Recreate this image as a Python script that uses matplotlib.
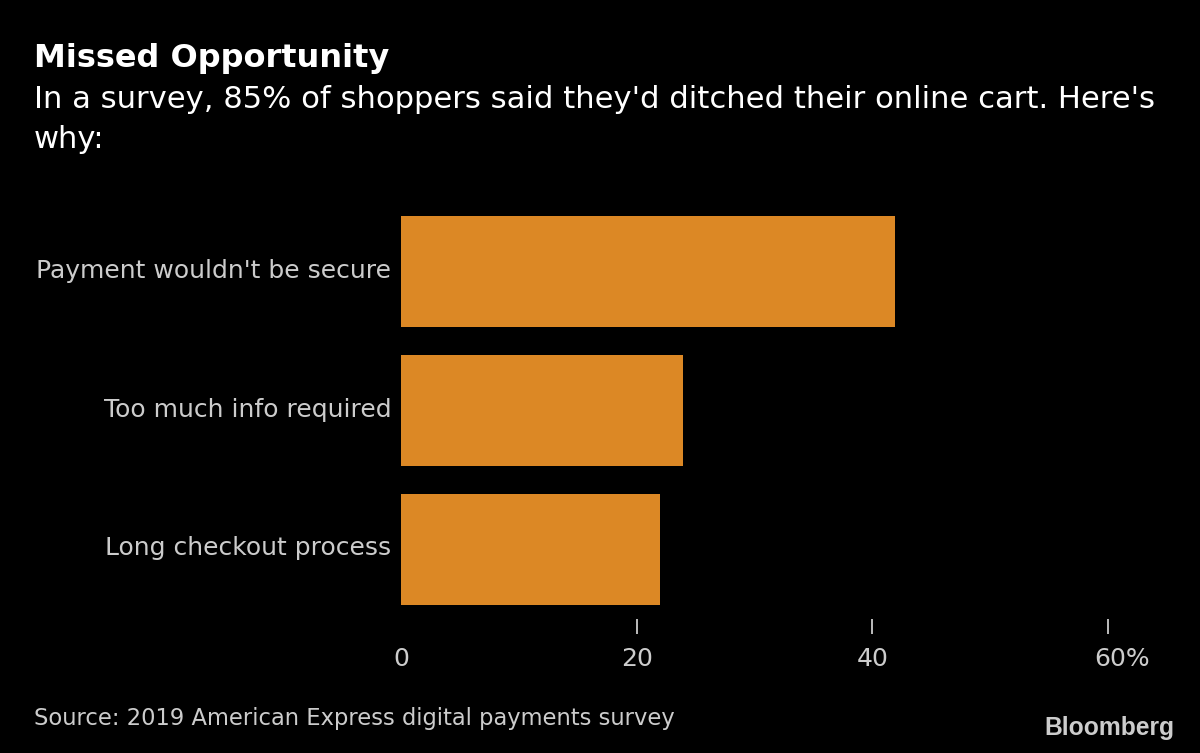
import matplotlib
matplotlib.use("Agg")
import matplotlib.pyplot as plt
from matplotlib.transforms import ScaledTranslation

categories = ["Payment wouldn't be secure", "Too much info required", "Long checkout process"]
values = [41.9, 23.9, 22]
tick_values = [0, 20, 40, 60]
tick_labels = ["0", "20", "40", "60%"]

W, H = 1200, 753
plt.rcParams["font.family"] = ["DejaVu Sans"]

fig = plt.figure(figsize=(W / 100, H / 100), dpi=100, facecolor="black")
# axes box in pixels: x 401..1108 is 0..60, y 202..619
ax = fig.add_axes([401 / W, 1 - 619 / H, (1108 - 401) / W, (619 - 202) / H], facecolor="black")

ax.barh(range(3), values, height=0.8, color="#dc8825")
ax.set_xlim(0, 60)
ax.set_ylim(2.5, -0.5)

for side in ax.spines:
    ax.spines[side].set_visible(False)

ax.set_yticks(range(3), categories)
ax.tick_params(axis="y", length=0, pad=7, labelsize=18, labelcolor="#cccccc")
ax.set_xticks(tick_values, tick_labels)
ax.tick_params(axis="x", direction="out", length=10.5, width=1.2, color="#dddddd", pad=10,
               labelsize=18, labelcolor="#cccccc")
ax.xaxis.get_major_ticks()[0].tick1line.set_visible(False)

# nudge labels to sit where the reference has them
for lab in ax.get_yticklabels():
    lab.set_transform(lab.get_transform() + ScaledTranslation(0, 3.5 / 100, fig.dpi_scale_trans))
last = ax.get_xticklabels()[-1]
last.set_transform(last.get_transform() + ScaledTranslation(14 / 100, 0, fig.dpi_scale_trans))

fig.text(34 / W, 1 - 58 / H, "Missed Opportunity", color="white", fontsize=23, fontweight="bold", va="center")
fig.text(34 / W, 1 - 99 / H, "In a survey, 85% of shoppers said they'd ditched their online cart. Here's",
         color="white", fontsize=22.1, va="center")
fig.text(34 / W, 1 - 139 / H, "why:", color="white", fontsize=22.1, va="center")
fig.text(34 / W, 1 - 719 / H, "Source: 2019 American Express digital payments survey", color="#cccccc",
         fontsize=16.3, va="center")
fig.text(1174 / W, 1 - 728 / H, "Bloomberg", color="#cccccc", fontsize=17.7, fontweight="bold",
         family="Liberation Sans", ha="right", va="center")

fig.savefig("out.png", dpi=100, facecolor="black")
